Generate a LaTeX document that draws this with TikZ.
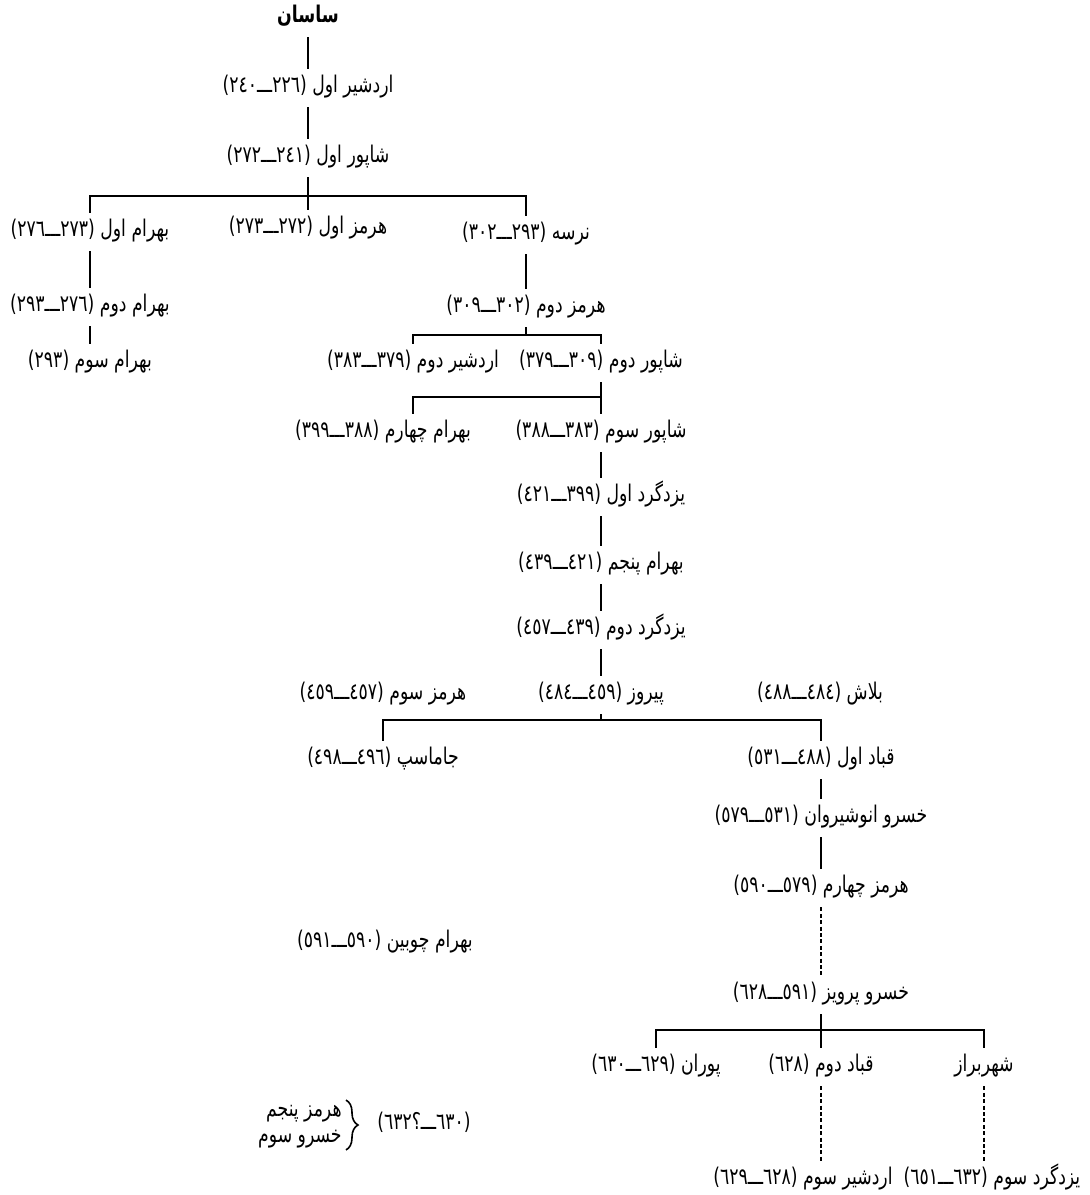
\documentclass[tikz,border=0pt]{standalone}
\usepackage{fontspec}
\newfontfamily\arabicfont[Script=Arabic, FakeStretch=0.75]{DejaVu Sans}
\TeXXeTstate=1
\usetikzlibrary{decorations.pathreplacing}

\newcommand{\rl}[1]{\beginR #1\endR}

\tikzset{
  king/.style={font=\arabicfont\fontsize{11.5}{13}\selectfont, inner xsep=0pt, inner ysep=0pt,
    text height=8pt, text depth=3.5pt, minimum height=19pt},
  bond/.style={line width=0.8pt},
  doubtful/.style={line width=0.65pt, dash pattern=on 2pt off 1.2pt},
}

\begin{document}
\begin{tikzpicture}[x=0.5pt, y=-0.5pt]

    % Drawing Parameters
    \pgfmathsetmacro{\bahramcol}{90}%
    \pgfmathsetmacro{\sasancol}{308}%
    \pgfmathsetmacro{\narsehcol}{526}%
    \pgfmathsetmacro{\shapurcol}{601}%
    \pgfmathsetmacro{\qobadcol}{821}%

    \useasboundingbox (0,0) rectangle (1090,1195);

    % Founders
    \node[king] (sasan) at (\sasancol,18) {\rl{\bfseries ساسان}};
    \node[king] (ardashir1) at (\sasancol,88) {\rl{اردشیر اول (٢٢٦ـــ٢٤٠)}};
    \node[king] (shapur1) at (\sasancol,158) {\rl{شاپور اول (٢٤١ـــ٢٧٢)}};

    % Sons of Shapur I
    \node[king] (bahram1) at (\bahramcol,232) {\rl{بهرام اول (٢٧٣ـــ٢٧٦)}};
    \node[king] (hormoz1) at (\sasancol,229) {\rl{هرمز اول (٢٧٢ـــ٢٧٣)}};
    \node[king] (narseh) at (\narsehcol,235) {\rl{نرسه (٢٩٣ـــ٣٠٢)}};
    \node[king] (bahram2) at (\bahramcol,307) {\rl{بهرام دوم (٢٧٦ـــ٢٩٣)}};
    \node[king] (bahram3) at (\bahramcol,363) {\rl{بهرام سوم (٢٩٣)}};
    \node[king] (hormoz2) at (\narsehcol,308) {\rl{هرمز دوم (٣٠٢ـــ٣٠٩)}};

    % Line of Hormoz II
    \node[king] (ardashir2) at (413,363) {\rl{اردشیر دوم (٣٧٩ـــ٣٨٣)}};
    \node[king] (shapur2) at (\shapurcol,363) {\rl{شاپور دوم (٣٠٩ـــ٣٧٩)}};
    \node[king] (bahram4) at (383,433) {\rl{بهرام چهارم (٣٨٨ـــ٣٩٩)}};
    \node[king] (shapur3) at (\shapurcol,433) {\rl{شاپور سوم (٣٨٣ـــ٣٨٨)}};
    \node[king] (yazdgerd1) at (\shapurcol,497) {\rl{یزدگرد اول (٣٩٩ـــ٤٢١)}};
    \node[king] (bahram5) at (\shapurcol,565) {\rl{بهرام پنجم (٤٢١ـــ٤٣٩)}};
    \node[king] (yazdgerd2) at (\shapurcol,630) {\rl{یزدگرد دوم (٤٣٩ـــ٤٥٧)}};
    \node[king] (hormoz3) at (383,695) {\rl{هرمز سوم (٤٥٧ـــ٤٥٩)}};
    \node[king] (piruz) at (\shapurcol,695) {\rl{پیروز (٤٥٩ـــ٤٨٤)}};
    \node[king] (balash) at (820,695) {\rl{بلاش (٤٨٤ـــ٤٨٨)}};

    % Line of Qobad I
    \node[king] (jamasp) at (383,760) {\rl{جاماسپ (٤٩٦ـــ٤٩٨)}};
    \node[king] (qobad1) at (\qobadcol,760) {\rl{قباد اول (٤٨٨ـــ٥٣١)}};
    \node[king] (khosrow1) at (\qobadcol,818) {\rl{خسرو انوشیروان (٥٣١ـــ٥٧٩)}};
    \node[king] (hormoz4) at (\qobadcol,888) {\rl{هرمز چهارم (٥٧٩ـــ٥٩٠)}};
    \node[king] (bahramc) at (385,943) {\rl{بهرام چوبین (٥٩٠ـــ٥٩١)}};
    \node[king] (khosrow2) at (\qobadcol,995) {\rl{خسرو پرویز (٥٩١ـــ٦٢٨)}};
    \node[king] (puran) at (656,1067) {\rl{پوران (٦٢٩ـــ٦٣٠)}};
    \node[king] (qobad2) at (\qobadcol,1067) {\rl{قباد دوم (٦٢٨)}};
    \node[king] (shahrbaraz) at (984,1067) {\rl{شهربراز}};
    \node[king, minimum height=0pt, anchor=east] (hormoz5) at (342,1112) {\rl{هرمز پنجم}};
    \node[king, minimum height=0pt, anchor=east] (khosrow3) at (342,1138) {\rl{خسرو سوم}};
    \node[king] (interregnum) at (424,1125) {\rl{(٦٣٠ـــ؟٦٣٢)}};
    \node[king] (yazdgerd3) at (992,1180) {\rl{یزدگرد سوم (٦٣٢ـــ٦٥١)}};
    \node[king] (ardashir3) at (803,1180) {\rl{اردشیر سوم (٦٢٨ـــ٦٢٩)}};

    % Succession Lines
    \draw[bond] (sasan) -- (ardashir1);
    \draw[bond] (ardashir1) -- (shapur1);
    \draw[bond] (shapur1) -- (hormoz1);
    \coordinate (fork1) at (\sasancol,196);
    \draw[bond] (bahram1.north) |- (fork1) -| (narseh.north);
    \draw[bond] (bahram1) -- (bahram2);
    \draw[bond] (bahram2) -- (bahram3);
    \draw[bond] (narseh) -- (hormoz2);
    \coordinate (fork2) at (\narsehcol,335);
    \draw[bond] (hormoz2.south) -- (fork2);
    \draw[bond] (ardashir2.north) |- (fork2) -| (shapur2.north);
    \coordinate (fork3) at (\shapurcol,397);
    \draw[bond] (shapur2) -- (shapur3);
    \draw[bond] (fork3) -| (ardashir2 |- bahram4.north);
    \draw[bond] (shapur3) -- (yazdgerd1);
    \draw[bond] (yazdgerd1) -- (bahram5);
    \draw[bond] (bahram5) -- (yazdgerd2);
    \draw[bond] (yazdgerd2) -- (piruz);
    \coordinate (fork4) at (\shapurcol,720);
    \draw[bond] (piruz.south) -- (fork4);
    \draw[bond] (jamasp.north) |- (fork4) -| (qobad1.north);
    \draw[bond] (qobad1) -- (khosrow1);
    \draw[bond] (khosrow1) -- (hormoz4);
    \coordinate (fork5) at (\qobadcol,1030);
    \draw[bond] (khosrow2) -- (qobad2);
    \draw[bond] (puran.north) |- (fork5) -| (shahrbaraz.north);

    % Dotted Descent
    \draw[doubtful] (hormoz4) -- (khosrow2);
    \draw[doubtful] (qobad2.south) -- (qobad2.south |- ardashir3.north);
    \draw[doubtful] (shahrbaraz.south) -- (shahrbaraz.south |- yazdgerd3.north);

    % Brace
    \draw[bond, decorate, decoration={brace, amplitude=6pt}] ([xshift=2pt]hormoz5.north east) -- ([xshift=2pt]khosrow3.south east);
  \end{tikzpicture}
\end{document}
